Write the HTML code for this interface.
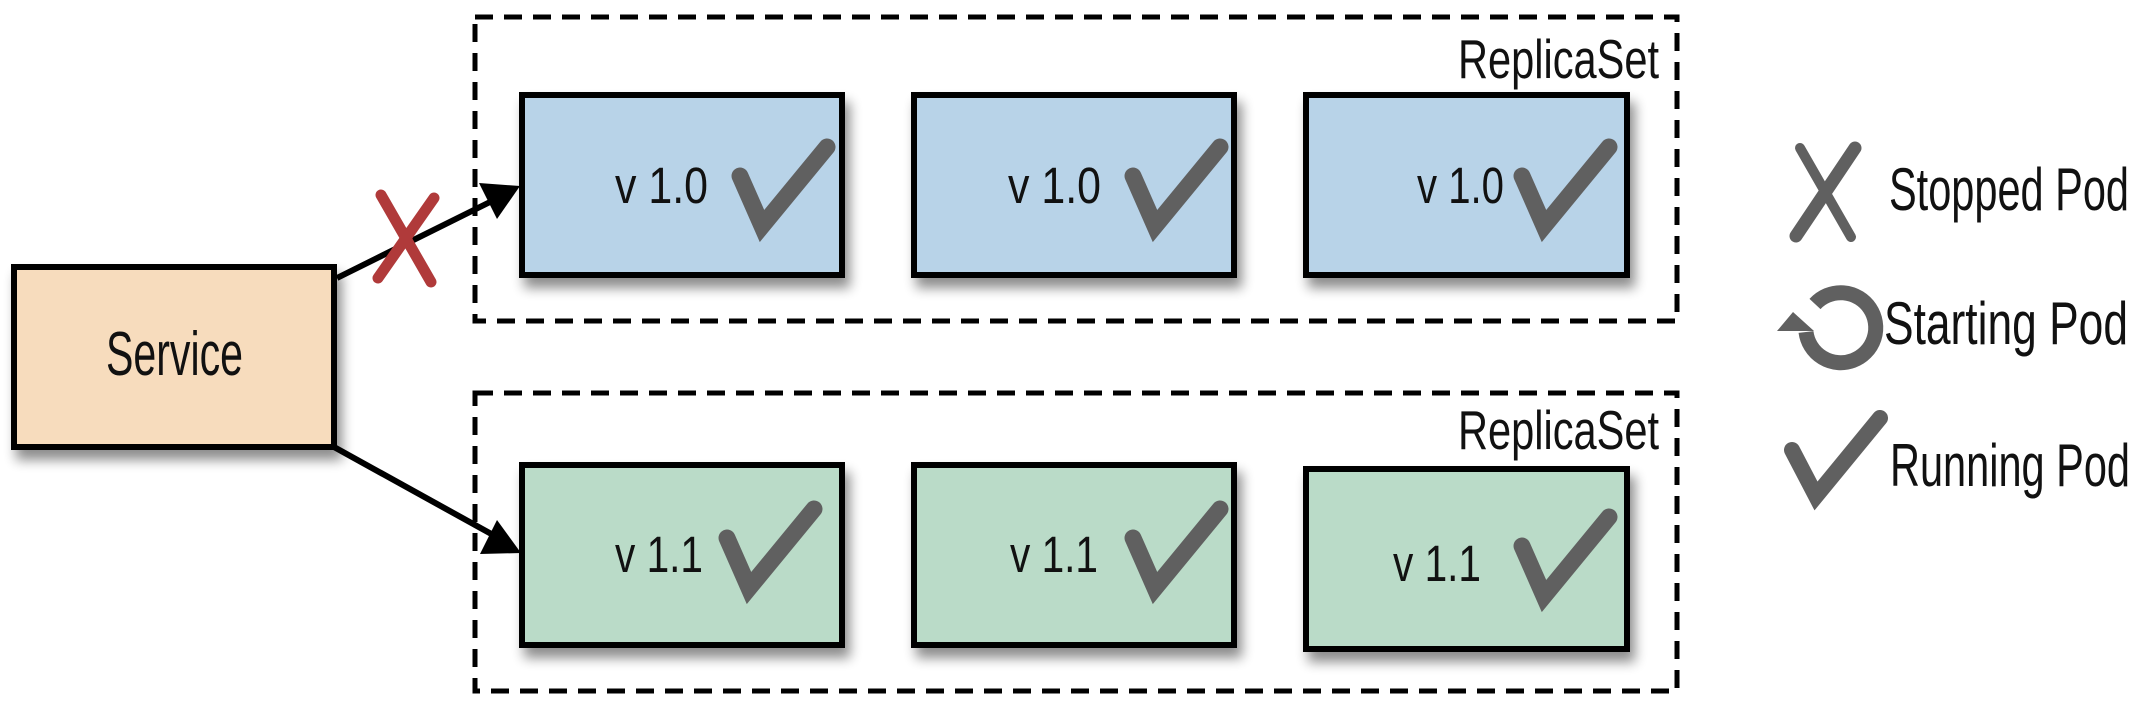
<!DOCTYPE html>
<html><head><meta charset="utf-8"><style>
html,body{margin:0;padding:0;background:#fff;}
svg{display:block;}
text{font-family:"Liberation Sans",sans-serif;fill:#111;}
</style></head><body>
<svg width="2144" height="708" viewBox="0 0 2144 708">
<defs>
<filter id="sh" x="-10%" y="-10%" width="130%" height="140%">
<feGaussianBlur in="SourceAlpha" stdDeviation="6"/>
<feOffset dx="5" dy="10" result="b"/>
<feComponentTransfer><feFuncA type="linear" slope="0.45"/></feComponentTransfer>
<feMerge><feMergeNode/><feMergeNode in="SourceGraphic"/></feMerge>
</filter>
<g id="chk"><path d="M5,34 L27,84 L92,5" fill="none" stroke="#606060" stroke-width="17" stroke-linecap="round" stroke-linejoin="miter"/></g>
</defs>

<rect x="475" y="17" width="1202" height="304" fill="none" stroke="#000" stroke-width="5" stroke-dasharray="18,11"/>
<rect x="475" y="393" width="1202" height="298" fill="none" stroke="#000" stroke-width="5" stroke-dasharray="18,11"/>
<text x="1458" y="78" font-size="55" textLength="201" lengthAdjust="spacingAndGlyphs">ReplicaSet</text>
<text x="1458" y="449" font-size="55" textLength="201" lengthAdjust="spacingAndGlyphs">ReplicaSet</text>

<g>
<rect x="14" y="267" width="320" height="180" fill="#f7dcbd" stroke="#000" stroke-width="6" filter="url(#sh)"/>
<text x="106" y="375" font-size="62" textLength="137" lengthAdjust="spacingAndGlyphs">Service</text>
</g>

<g><rect x="522" y="95" width="320" height="180" fill="#b8d3e8" stroke="#000" stroke-width="6" filter="url(#sh)"/><text x="615" y="203" font-size="51" textLength="93" lengthAdjust="spacingAndGlyphs">v 1.0</text><use href="#chk" x="735" y="142"/></g>
<g><rect x="914" y="95" width="320" height="180" fill="#b8d3e8" stroke="#000" stroke-width="6" filter="url(#sh)"/><text x="1008" y="203" font-size="51" textLength="93" lengthAdjust="spacingAndGlyphs">v 1.0</text><use href="#chk" x="1128" y="142"/></g>
<g><rect x="1306" y="95" width="321" height="180" fill="#b8d3e8" stroke="#000" stroke-width="6" filter="url(#sh)"/><text x="1417" y="203" font-size="51" textLength="87" lengthAdjust="spacingAndGlyphs">v 1.0</text><use href="#chk" x="1517" y="142"/></g>

<g><rect x="522" y="465" width="320" height="180" fill="#badbc8" stroke="#000" stroke-width="6" filter="url(#sh)"/><text x="615" y="572" font-size="51" textLength="88" lengthAdjust="spacingAndGlyphs">v 1.1</text><use href="#chk" x="722" y="504"/></g>
<g><rect x="914" y="465" width="320" height="180" fill="#badbc8" stroke="#000" stroke-width="6" filter="url(#sh)"/><text x="1010" y="572" font-size="51" textLength="88" lengthAdjust="spacingAndGlyphs">v 1.1</text><use href="#chk" x="1128" y="504"/></g>
<g><rect x="1306" y="469" width="321" height="180" fill="#badbc8" stroke="#000" stroke-width="6" filter="url(#sh)"/><text x="1393" y="581" font-size="51" textLength="88" lengthAdjust="spacingAndGlyphs">v 1.1</text><use href="#chk" x="1517" y="512"/></g>

<g>
<line x1="337" y1="278" x2="490" y2="202" stroke="#000" stroke-width="6"/>
<polygon points="520,186 479,183 497,219" fill="#000"/>
</g>
<g>
<line x1="381" y1="195" x2="431" y2="282" stroke="#b03a3a" stroke-width="11" stroke-linecap="round"/>
<line x1="434" y1="198" x2="378" y2="278" stroke="#b03a3a" stroke-width="11" stroke-linecap="round"/>
</g>
<g>
<line x1="334" y1="447" x2="495" y2="536" stroke="#000" stroke-width="6"/>
<polygon points="521,553 480,554 497,520" fill="#000"/>
</g>

<g>
<line x1="1800" y1="148" x2="1851" y2="237" stroke="#606060" stroke-width="10" stroke-linecap="round"/>
<line x1="1855" y1="148" x2="1796" y2="236" stroke="#606060" stroke-width="13" stroke-linecap="round"/>
<text x="1889" y="210" font-size="60" textLength="240" lengthAdjust="spacingAndGlyphs">Stopped Pod</text>
</g>
<g>
<path d="M1815,304 A35,35 0 1 1 1806,332" fill="none" stroke="#606060" stroke-width="15"/>
<polygon points="1777,331 1793,312 1814,331" fill="#606060"/>
<text x="1884" y="344" font-size="60" textLength="244" lengthAdjust="spacingAndGlyphs">Starting Pod</text>
</g>
<g>
<path d="M1792,450 L1816,496 L1880,418" fill="none" stroke="#606060" stroke-width="16" stroke-linecap="round"/>
<text x="1890" y="486" font-size="60" textLength="240" lengthAdjust="spacingAndGlyphs">Running Pod</text>
</g>
</svg>
</body></html>
